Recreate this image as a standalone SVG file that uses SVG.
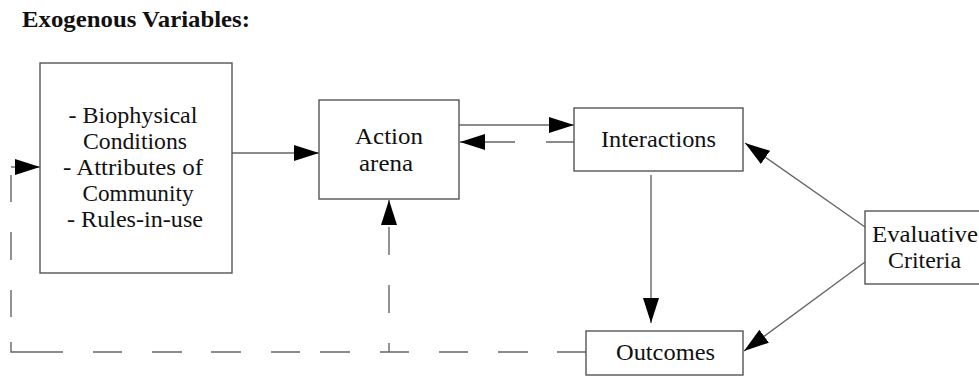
<svg xmlns="http://www.w3.org/2000/svg" width="979" height="376" viewBox="0 0 979 376">
<style>
  .box { fill: #ffffff; stroke: #555555; stroke-width: 1.4; }
  .lbl { font-family: "Liberation Serif", serif; font-size: 23px; fill: #111111; text-anchor: middle; }
  .title { font-family: "Liberation Serif", serif; font-size: 23px; font-weight: bold; fill: #111111; }
  .conn { fill: none; stroke: #666666; stroke-width: 1.4; }
</style>
<defs>
  <marker id="arr" markerUnits="userSpaceOnUse" markerWidth="26" markerHeight="17" refX="25" refY="8" orient="auto">
    <path d="M0,0 L25,8 L0,16 Z" fill="#000000"/>
  </marker>
</defs>
<rect width="979" height="376" fill="#ffffff"/>
<text class="title" x="22" y="27" textLength="228" lengthAdjust="spacingAndGlyphs">Exogenous Variables:</text>

<g id="connectors">
  <line class="conn" x1="232" y1="153" x2="319" y2="153" marker-end="url(#arr)"/>
  <line class="conn" x1="459" y1="125" x2="574" y2="125" marker-end="url(#arr)"/>
  <path class="conn" d="M574,142 H546 M515,142 H460" marker-end="url(#arr)"/>
  <line class="conn" x1="651" y1="175" x2="651" y2="323" marker-end="url(#arr)"/>
  <line class="conn" x1="865" y1="227" x2="745" y2="143" marker-end="url(#arr)"/>
  <line class="conn" x1="865" y1="262" x2="744" y2="351" marker-end="url(#arr)"/>
  <path class="conn" d="M586,352 H557 M528,352 H498 M468,352 H439 M409,352 H380 M350,352 H320 M300,352 H271 M241,352 H211 M182,352 H152 M122,352 H93 M63,352 H33 M33,352 H11 V342 M11,317 V290 M11,260 V232 M11,202 V175"/>
  <path class="conn" d="M11,167 H40" marker-end="url(#arr)"/>
  <path class="conn" d="M389,352 V343 M389,313 V285 M389,255 V227"/>
  <path class="conn" d="M389,224 V200" marker-end="url(#arr)"/>
</g>

<g id="exogenous">
  <rect class="box" x="40" y="63" width="192" height="210"/>
  <text class="lbl" x="133" y="123" textLength="129" lengthAdjust="spacingAndGlyphs">- Biophysical</text>
  <text class="lbl" x="135" y="149" textLength="104" lengthAdjust="spacingAndGlyphs">Conditions</text>
  <text class="lbl" x="133" y="175" textLength="140" lengthAdjust="spacingAndGlyphs">- Attributes of</text>
  <text class="lbl" x="138" y="201" textLength="111" lengthAdjust="spacingAndGlyphs">Community</text>
  <text class="lbl" x="135" y="227" textLength="136" lengthAdjust="spacingAndGlyphs">- Rules-in-use</text>
</g>

<g id="action-arena">
  <rect class="box" x="319" y="100" width="140" height="99"/>
  <text class="lbl" x="389" y="144" textLength="68" lengthAdjust="spacingAndGlyphs">Action</text>
  <text class="lbl" x="386" y="171" textLength="54" lengthAdjust="spacingAndGlyphs">arena</text>
</g>

<g id="interactions">
  <rect class="box" x="574" y="108" width="169" height="63"/>
  <text class="lbl" x="658.5" y="147" textLength="115" lengthAdjust="spacingAndGlyphs">Interactions</text>
</g>

<g id="outcomes">
  <rect class="box" x="586" y="331" width="157" height="44"/>
  <text class="lbl" x="665.5" y="360" textLength="99" lengthAdjust="spacingAndGlyphs">Outcomes</text>
</g>

<g id="evaluative-criteria">
  <rect class="box" x="865" y="211" width="130" height="73"/>
  <text class="lbl" x="925" y="242" textLength="106" lengthAdjust="spacingAndGlyphs">Evaluative</text>
  <text class="lbl" x="924.5" y="268" textLength="73" lengthAdjust="spacingAndGlyphs">Criteria</text>
</g>
</svg>
